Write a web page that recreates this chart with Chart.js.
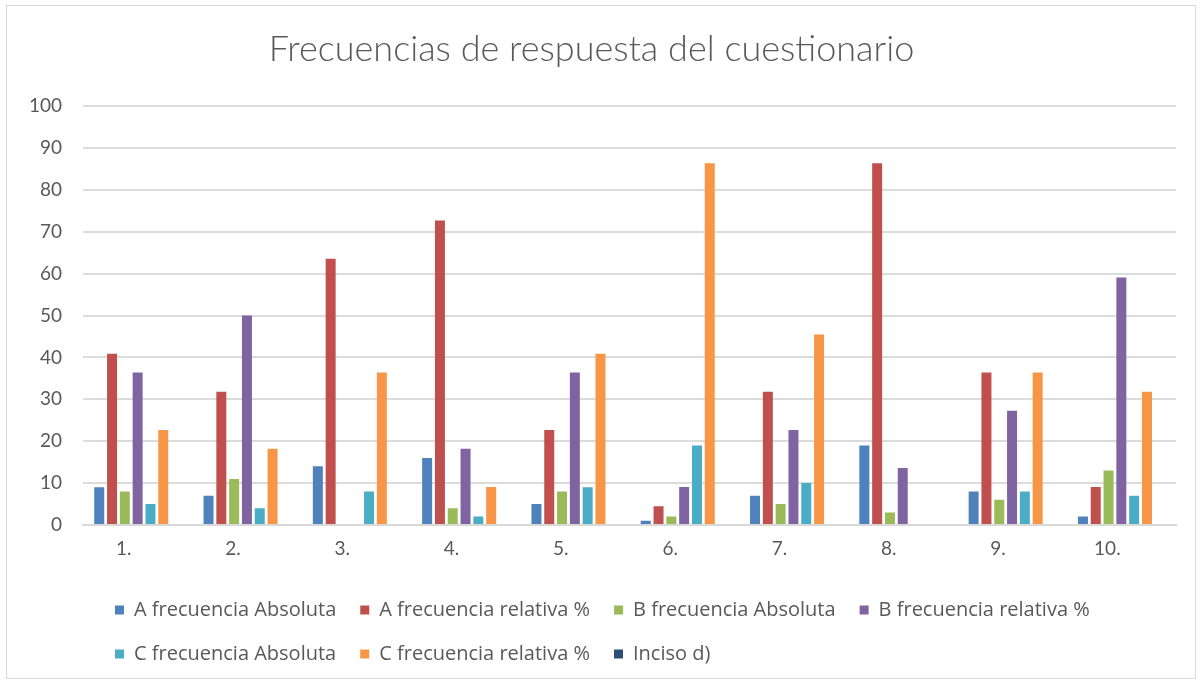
<!DOCTYPE html>
<html>
<head>
<meta charset="utf-8">
<script src="https://cdn.jsdelivr.net/npm/chart.js@4"></script>
<style>
  body { margin: 0; background: #fff; }
  .frame {
    position: absolute;
    left: 6px;
    top: 5px;
    width: 1188px;
    height: 672px;
    border: 1px solid #d9d9d9;
  }
</style>
</head>
<body>
<div class="frame">
  <canvas id="myChart" width="1188" height="672"></canvas>
</div>
<script>
const preguntas = ['1.', '2.', '3.', '4.', '5.', '6.', '7.', '8.', '9.', '10.'];

const aAbsoluta = [9, 7, 14, 16, 5, 1, 7, 19, 8, 2];
const aRelativa = [40.9, 31.8, 63.6, 72.7, 22.7, 4.5, 31.8, 86.4, 36.4, 9.1];
const bAbsoluta = [8, 11, 0, 4, 8, 2, 5, 3, 6, 13];
const bRelativa = [36.4, 50, 0, 18.2, 36.4, 9.1, 22.7, 13.6, 27.3, 59.1];
const cAbsoluta = [5, 4, 8, 2, 9, 19, 10, 0, 8, 7];
const cRelativa = [22.7, 18.2, 36.4, 9.1, 40.9, 86.4, 45.5, 0, 36.4, 31.8];
const incisoD = [null, null, null, null, null, null, null, null, null, null];

const yTicks = [0, 10, 20, 30, 40, 50, 60, 70, 80, 90, 100];

const series = [
  { label: 'A frecuencia Absoluta', data: aAbsoluta, color: '#4F81BD' },
  { label: 'A frecuencia relativa %', data: aRelativa, color: '#C0504D' },
  { label: 'B frecuencia Absoluta', data: bAbsoluta, color: '#9BBB59' },
  { label: 'B frecuencia relativa %', data: bRelativa, color: '#8064A2' },
  { label: 'C frecuencia Absoluta', data: cAbsoluta, color: '#4BACC6' },
  { label: 'C frecuencia relativa %', data: cRelativa, color: '#F79646' },
  { label: 'Inciso d)', data: incisoD, color: '#2C4D75' }
];

const fontFamily = 'Lato, "Open Sans", sans-serif';
const legendFont = '"Open Sans", Lato, sans-serif';
const textColor = '#595959';

// move the legend a bit to the right, like Excel does
const legendShift = {
  id: 'legendShift',
  afterLayout(chart) {
    chart.legend.left += 8;
  }
};

new Chart(document.getElementById('myChart'), {
  type: 'bar',
  data: {
    labels: preguntas,
    datasets: series.map(s => ({
      label: s.label,
      data: s.data,
      backgroundColor: s.color,
      borderWidth: 0,
      categoryPercentage: 0.82,
      barPercentage: 0.78
    }))
  },
  options: {
    responsive: false,
    animation: false,
    devicePixelRatio: 1,
    layout: {
      padding: { left: 0, right: 19, top: 0, bottom: 4 }
    },
    plugins: {
      title: {
        display: true,
        text: 'Frecuencias de respuesta del cuestionario',
        color: textColor,
        font: { family: fontFamily, size: 36, weight: '300' },
        padding: { top: 22, bottom: 35 }
      },
      legend: {
        position: 'bottom',
        align: 'start',
        fullSize: false,
        labels: {
          color: textColor,
          font: { family: legendFont, size: 20 },
          boxWidth: 9,
          boxHeight: 9,
          padding: 24
        }
      },
      tooltip: { enabled: false }
    },
    scales: {
      x: {
        grid: { display: false },
        border: { color: '#d9d9d9', width: 2 },
        ticks: {
          color: textColor,
          font: { family: fontFamily, size: 19 },
          padding: 4,
          labelOffset: -14
        },
        afterFit(scale) {
          scale.height = 51;
        }
      },
      y: {
        min: 0,
        max: 100,
        afterBuildTicks(scale) {
          scale.ticks = yTicks.map(v => ({ value: v }));
        },
        grid: { color: '#dcdcdc', lineWidth: 2, drawTicks: false },
        border: { display: false },
        ticks: {
          color: textColor,
          font: { family: fontFamily, size: 19 },
          padding: 21
        },
        afterFit(scale) {
          scale.width = 76;
        }
      }
    }
  },
  plugins: [legendShift]
});
</script>
</body>
</html>
